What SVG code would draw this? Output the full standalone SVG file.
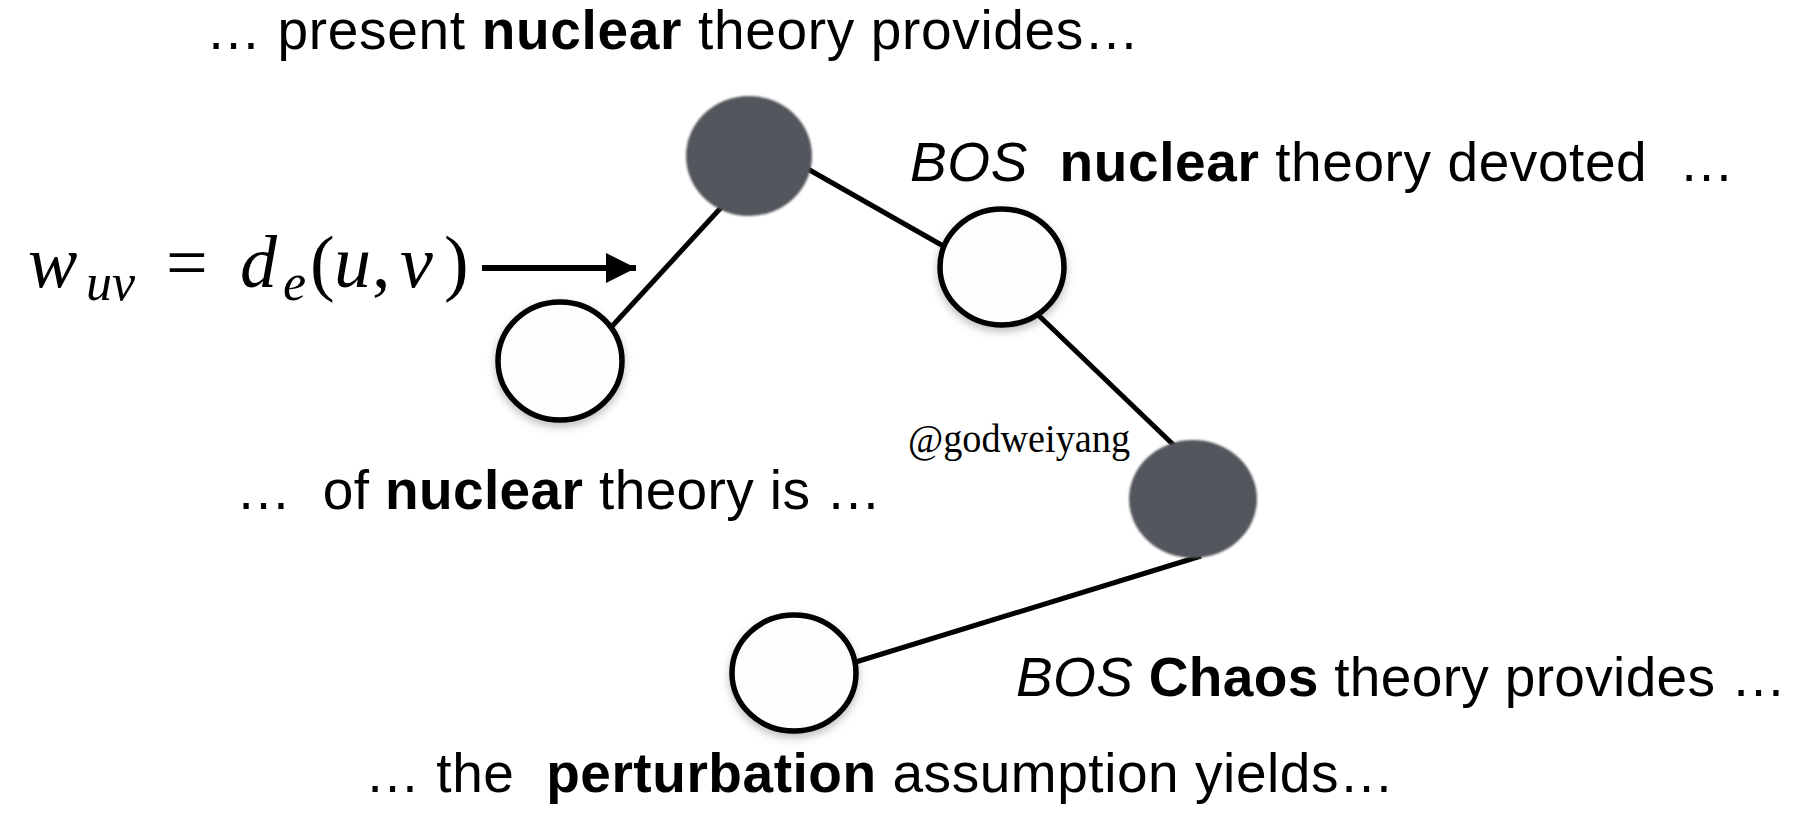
<svg xmlns="http://www.w3.org/2000/svg" width="1807" height="822" viewBox="0 0 1807 822">
<style>
.lbl{font-family:"Liberation Sans",Arial,sans-serif;font-size:55px;fill:#000}
.b{font-weight:bold}
.i{font-style:italic}
.math{font-family:"Liberation Serif","Times New Roman",serif;fill:#000}
.mi{font-style:italic}
.edge{stroke:#000;stroke-width:5;fill:none;stroke-linecap:butt}
.white{fill:#fdfdfd;stroke:#000;stroke-width:5.5}
.dark{fill:#53575c}
.wm{font-family:"Liberation Serif","Times New Roman",serif;font-size:41px;fill:#000}
</style>
<defs>
<marker id="ah" viewBox="0 0 10 10" refX="10" refY="5" markerWidth="5" markerHeight="5" orient="auto" markerUnits="strokeWidth">
<path d="M0,0 L10,5 L0,10 Z" fill="#000"/>
</marker>
<filter id="sh" x="-30%" y="-30%" width="160%" height="170%">
<feDropShadow dx="0" dy="4" stdDeviation="4" flood-color="#000" flood-opacity="0.25"/>
</filter>
<filter id="soft" x="-10%" y="-10%" width="120%" height="120%">
<feGaussianBlur stdDeviation="1"/>
</filter>
</defs>

<g id="connectors">
<line class="edge" x1="604" y1="335" x2="728" y2="200"/>
<line class="edge" x1="799" y1="164" x2="952" y2="251"/>
<line class="edge" x1="1033" y1="310" x2="1184" y2="455"/>
<line class="edge" x1="1201" y1="556" x2="846" y2="665"/>
<line id="weight-arrow" x1="482" y1="268" x2="636" y2="268" stroke="#000" stroke-width="6" marker-end="url(#ah)"/>
</g>

<g id="node-top-dark"><ellipse class="dark" cx="749" cy="156" rx="63" ry="60" filter="url(#soft)"/></g>
<g id="node-left-white"><ellipse class="white" cx="560" cy="361" rx="62" ry="59" filter="url(#sh)"/></g>
<g id="node-right-white"><ellipse class="white" cx="1002" cy="267" rx="62" ry="58" filter="url(#sh)"/></g>
<g id="node-right-dark"><ellipse class="dark" cx="1193" cy="499" rx="64" ry="59" filter="url(#soft)"/></g>
<g id="node-bottom-white"><ellipse class="white" cx="794" cy="673" rx="62" ry="58" filter="url(#sh)"/></g>

<g id="label-top"><text class="lbl" x="206" y="49" xml:space="preserve" textLength="933" lengthAdjust="spacing">… present <tspan class="b">nuclear</tspan> theory provides…</text></g>
<g id="label-right-top"><text class="lbl" x="910" y="181" xml:space="preserve" textLength="824" lengthAdjust="spacing"><tspan class="i">BOS</tspan>  <tspan class="b">nuclear</tspan> theory devoted  …</text></g>
<g id="label-left"><text class="lbl" x="236" y="509" xml:space="preserve" textLength="645" lengthAdjust="spacing">…  of <tspan class="b">nuclear</tspan> theory is …</text></g>
<g id="label-right-bottom"><text class="lbl" x="1016" y="696" xml:space="preserve" textLength="770" lengthAdjust="spacing"><tspan class="i">BOS</tspan> <tspan class="b">Chaos</tspan> theory provides …</text></g>
<g id="label-bottom"><text class="lbl" x="365" y="792" xml:space="preserve" textLength="1029" lengthAdjust="spacing">… the  <tspan class="b">perturbation</tspan> assumption yields…</text></g>

<g id="formula" class="math">
<text x="28" y="287" font-size="74" class="mi">w</text>
<text x="86" y="300" font-size="52" class="mi">uv</text>
<text x="166" y="287" font-size="74">=</text>
<text x="240" y="287" font-size="74" class="mi">d</text>
<text x="283" y="300" font-size="52" class="mi">e</text>
<text x="310" y="287" font-size="74">(</text>
<text x="334" y="287" font-size="74" class="mi">u</text>
<text x="372" y="287" font-size="74">,</text>
<text x="400" y="287" font-size="74" class="mi">v</text>
<text x="444" y="287" font-size="74">)</text>
</g>

<g id="watermark"><text class="wm" x="908" y="452" textLength="222" lengthAdjust="spacingAndGlyphs">@godweiyang</text></g>
</svg>
